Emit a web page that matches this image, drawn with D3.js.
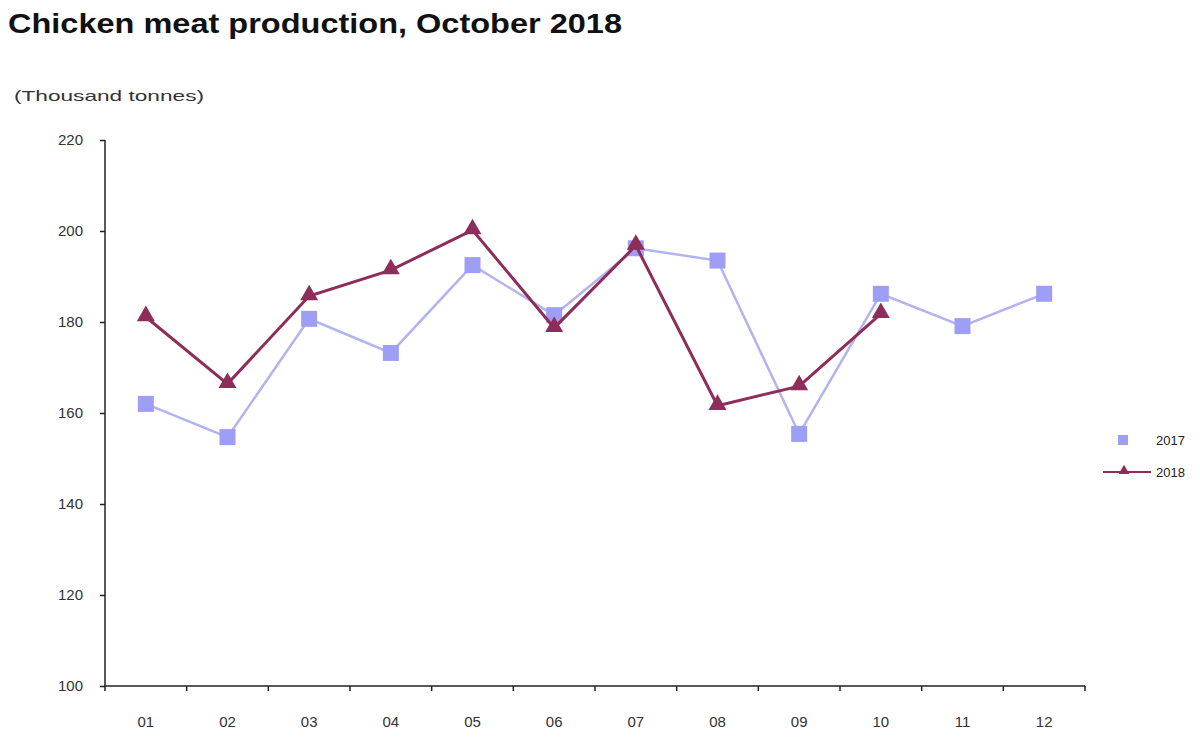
<!DOCTYPE html>
<html>
<head>
<meta charset="utf-8">
<script src="https://cdn.jsdelivr.net/npm/d3@7"></script>
<style>
    body { margin: 0; background: #fff; }
    text { font-family: "Liberation Sans", Arial, sans-serif; }
    .chart-title { font-size: 28px; font-weight: bold; fill: #111; }
    .axis text { font-size: 15px; fill: #333; }
    .axis path, .axis line { stroke: #222; stroke-width: 1.5; }
</style>
</head>
<body>
<div id="chart"></div>
<script>
var months = ['01', '02', '03', '04', '05', '06', '07', '08', '09', '10', '11', '12'];
var values2017 = [162, 154.7, 180.7, 173.2, 192.5, 181.5, 196.2, 193.5, 155.4, 186.2, 179.1, 186.2];
var values2018 = [181.1, 166.4, 185.7, 191.4, 200.2, 178.7, 196.8, 161.6, 165.9, 181.8];
var yTicks = [100, 120, 140, 160, 180, 200, 220];

var width = 1200,
    height = 751,
    margin = { top: 140, right: 115, bottom: 65, left: 105 };

var chartWidth = width - margin.left - margin.right,
    chartHeight = height - margin.top - margin.bottom;

var svg = d3.select('#chart').append('svg')
    .attr('width', width)
    .attr('height', height);

svg.append('text')
    .attr('class', 'chart-title')
    .attr('x', 8)
    .attr('y', 33)
    .attr('textLength', 614)
    .attr('lengthAdjust', 'spacingAndGlyphs')
    .text('Chicken meat production, October 2018');

svg.append('text')
    .attr('x', 14)
    .attr('y', 101)
    .attr('textLength', 190)
    .attr('lengthAdjust', 'spacingAndGlyphs')
    .style('font-size', '15px')
    .style('fill', '#333')
    .text('(Thousand tonnes)');

var xScale = d3.scaleBand().domain(months).range([0, chartWidth]);
var yScale = d3.scaleLinear().domain([100, 220]).range([chartHeight, 0]);

var g = svg.append('g')
    .attr('transform', 'translate(' + margin.left + ',' + margin.top + ')');

// y axis
var yAxis = d3.axisLeft(yScale).tickValues(yTicks).tickSize(5).tickPadding(17).tickFormat(d3.format('d'));
g.append('g').attr('class', 'axis').call(yAxis)
    .call(function (s) { s.select('.domain').attr('d', 'M0,0V' + chartHeight); });

// x axis, ticks sit on the band boundaries
var xG = g.append('g').attr('class', 'axis')
    .attr('transform', 'translate(0,' + chartHeight + ')');
xG.append('line').attr('x1', 0).attr('x2', chartWidth).attr('stroke', '#222').attr('stroke-width', 1.5);
xG.selectAll('.tick-b').data(months.concat(['end'])).enter().append('line')
    .attr('x1', function (d, i) { return i * xScale.step(); })
    .attr('x2', function (d, i) { return i * xScale.step(); })
    .attr('y1', 0).attr('y2', 5)
    .attr('stroke', '#222').attr('stroke-width', 1.5);
xG.selectAll('.lbl').data(months).enter().append('text')
    .attr('x', function (d) { return xScale(d) + xScale.bandwidth() / 2; })
    .attr('y', 41)
    .attr('text-anchor', 'middle')
    .text(function (d) { return d; });

var cx = function (d, i) { return xScale(months[i]) + xScale.bandwidth() / 2; };

var line = d3.line()
    .x(cx)
    .y(function (d) { return yScale(d); });

// 2017
g.append('path')
    .attr('d', line(values2017))
    .attr('fill', 'none')
    .attr('stroke', '#b3b3f0')
    .attr('stroke-width', 2.5);
g.selectAll('.sq').data(values2017).enter().append('rect')
    .attr('x', function (d, i) { return cx(d, i) - 8; })
    .attr('y', function (d) { return yScale(d) - 8; })
    .attr('width', 16).attr('height', 16)
    .attr('fill', '#9e9ef5');

// 2018
var tri = d3.symbol().type(d3.symbolTriangle).size(140);
g.append('path')
    .attr('d', line(values2018))
    .attr('fill', 'none')
    .attr('stroke', '#8e2d5a')
    .attr('stroke-width', 3);
g.selectAll('.tri').data(values2018).enter().append('path')
    .attr('d', tri)
    .attr('transform', function (d, i) { return 'translate(' + cx(d, i) + ',' + (yScale(d) - 1) + ')'; })
    .attr('fill', '#8e2d5a');

// legend
var legend = svg.append('g').attr('transform', 'translate(1103,440)');
legend.append('rect').attr('x', 15).attr('y', -5).attr('width', 10).attr('height', 10).attr('fill', '#9e9ef5');
legend.append('text').attr('x', 53).attr('y', 5).style('font-size', '13px').style('fill', '#222').text('2017');
legend.append('line').attr('x1', 0).attr('x2', 48).attr('y1', 32).attr('y2', 32)
    .attr('stroke', '#8e2d5a').attr('stroke-width', 2);
legend.append('path').attr('d', d3.symbol().type(d3.symbolTriangle).size(50))
    .attr('transform', 'translate(21,31)').attr('fill', '#8e2d5a');
legend.append('text').attr('x', 53).attr('y', 37).style('font-size', '13px').style('fill', '#222').text('2018');
</script>
</body>
</html>
